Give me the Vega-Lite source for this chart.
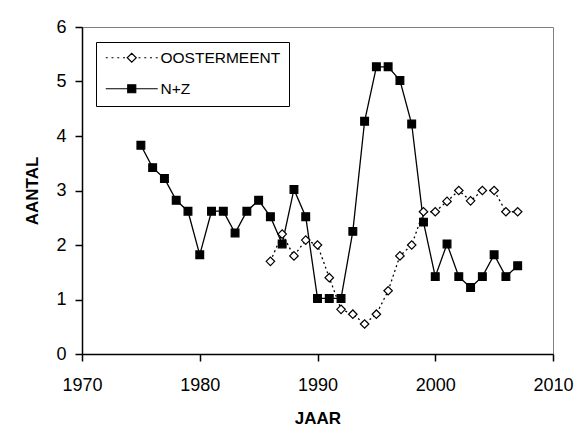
{
  "$schema": "https://vega.github.io/schema/vega-lite/v6.json",
  "width": 471,
  "height": 327,
  "autosize": {"type": "none"},
  "padding": {"left": 82, "top": 27, "right": 22, "bottom": 73},
  "background": "white",
  "config": {
    "view": {"stroke": "#808080", "strokeWidth": 1},
    "axis": {
      "grid": false,
      "domainColor": "black",
      "domainWidth": 1.5,
      "tickColor": "black",
      "tickWidth": 1.5,
      "tickSize": 7,
      "labelFont": "Liberation Sans",
      "labelFontSize": 18,
      "labelColor": "black",
      "titleFont": "Liberation Sans",
      "titleFontSize": 17,
      "titleFontWeight": "bold",
      "titleColor": "black"
    }
  },
  "data": {
    "values": [
      {"year": 1975, "series": "N+Z", "value": 3.83},
      {"year": 1976, "series": "N+Z", "value": 3.42},
      {"year": 1977, "series": "N+Z", "value": 3.22},
      {"year": 1978, "series": "N+Z", "value": 2.82},
      {"year": 1979, "series": "N+Z", "value": 2.62},
      {"year": 1980, "series": "N+Z", "value": 1.82},
      {"year": 1981, "series": "N+Z", "value": 2.62},
      {"year": 1982, "series": "N+Z", "value": 2.62},
      {"year": 1983, "series": "N+Z", "value": 2.22},
      {"year": 1984, "series": "N+Z", "value": 2.62},
      {"year": 1985, "series": "N+Z", "value": 2.82},
      {"year": 1986, "series": "N+Z", "value": 2.52},
      {"year": 1987, "series": "N+Z", "value": 2.02},
      {"year": 1988, "series": "N+Z", "value": 3.02},
      {"year": 1989, "series": "N+Z", "value": 2.52},
      {"year": 1990, "series": "N+Z", "value": 1.02},
      {"year": 1991, "series": "N+Z", "value": 1.02},
      {"year": 1992, "series": "N+Z", "value": 1.02},
      {"year": 1993, "series": "N+Z", "value": 2.25},
      {"year": 1994, "series": "N+Z", "value": 4.27},
      {"year": 1995, "series": "N+Z", "value": 5.27},
      {"year": 1996, "series": "N+Z", "value": 5.27},
      {"year": 1997, "series": "N+Z", "value": 5.02},
      {"year": 1998, "series": "N+Z", "value": 4.22},
      {"year": 1999, "series": "N+Z", "value": 2.42},
      {"year": 2000, "series": "N+Z", "value": 1.42},
      {"year": 2001, "series": "N+Z", "value": 2.02},
      {"year": 2002, "series": "N+Z", "value": 1.42},
      {"year": 2003, "series": "N+Z", "value": 1.22},
      {"year": 2004, "series": "N+Z", "value": 1.42},
      {"year": 2005, "series": "N+Z", "value": 1.82},
      {"year": 2006, "series": "N+Z", "value": 1.42},
      {"year": 2007, "series": "N+Z", "value": 1.62},
      {"year": 1986, "series": "OOSTERMEENT", "value": 1.7},
      {"year": 1987, "series": "OOSTERMEENT", "value": 2.2},
      {"year": 1988, "series": "OOSTERMEENT", "value": 1.8},
      {"year": 1989, "series": "OOSTERMEENT", "value": 2.09},
      {"year": 1990, "series": "OOSTERMEENT", "value": 2.0},
      {"year": 1991, "series": "OOSTERMEENT", "value": 1.4},
      {"year": 1992, "series": "OOSTERMEENT", "value": 0.82},
      {"year": 1993, "series": "OOSTERMEENT", "value": 0.73},
      {"year": 1994, "series": "OOSTERMEENT", "value": 0.55},
      {"year": 1995, "series": "OOSTERMEENT", "value": 0.73},
      {"year": 1996, "series": "OOSTERMEENT", "value": 1.16},
      {"year": 1997, "series": "OOSTERMEENT", "value": 1.8},
      {"year": 1998, "series": "OOSTERMEENT", "value": 2.0},
      {"year": 1999, "series": "OOSTERMEENT", "value": 2.61},
      {"year": 2000, "series": "OOSTERMEENT", "value": 2.61},
      {"year": 2001, "series": "OOSTERMEENT", "value": 2.8},
      {"year": 2002, "series": "OOSTERMEENT", "value": 3.0},
      {"year": 2003, "series": "OOSTERMEENT", "value": 2.81},
      {"year": 2004, "series": "OOSTERMEENT", "value": 3.0},
      {"year": 2005, "series": "OOSTERMEENT", "value": 3.0},
      {"year": 2006, "series": "OOSTERMEENT", "value": 2.61},
      {"year": 2007, "series": "OOSTERMEENT", "value": 2.61}
    ]
  },
  "encoding": {
    "x": {
      "field": "year",
      "type": "quantitative",
      "scale": {"domain": [1970, 2010], "nice": false, "zero": false},
      "axis": {"values": [1970, 1980, 1990, 2000, 2010], "format": "d", "title": "JAAR", "labelPadding": 15, "titlePadding": 16, "labelFlush": false}
    },
    "y": {
      "field": "value",
      "type": "quantitative",
      "scale": {"domain": [0, 6], "nice": false},
      "axis": {"values": [0, 1, 2, 3, 4, 5, 6], "title": "AANTAL", "labelPadding": 9, "titlePadding": 14, "labelFlush": false}
    }
  },
  "layer": [
    {
      "transform": [{"filter": "datum.series === 'OOSTERMEENT'"}],
      "mark": {"type": "line", "color": "black", "strokeWidth": 1.3, "strokeDash": [2, 3]},
      "encoding": {}
    },
    {
      "transform": [{"filter": "datum.series === 'N+Z'"}],
      "mark": {"type": "line", "color": "black", "strokeWidth": 1.3},
      "encoding": {}
    },
    {
      "transform": [{"filter": "datum.series === 'OOSTERMEENT'"}],
      "mark": {"type": "point", "shape": "diamond", "filled": true, "fill": "white", "stroke": "black", "strokeWidth": 1.2, "size": 72, "opacity": 1},
      "encoding": {}
    },
    {
      "transform": [{"filter": "datum.series === 'N+Z'"}],
      "mark": {"type": "point", "shape": "square", "filled": true, "fill": "black", "stroke": "black", "strokeWidth": 1.2, "size": 60, "opacity": 1},
      "encoding": {}
    },
    {
      "mark": {"type": "point", "filled": true, "strokeWidth": 1.2, "size": 100, "opacity": 0},
      "encoding": {
        "shape": {
          "field": "series",
          "type": "nominal",
          "scale": {
            "domain": ["OOSTERMEENT", "N+Z"],
            "range": [
              "M-5.2,0H-4.8M-4.05,0H-3.65M-2.9,0H-2.5M-1.75,0H-1.35M1.35,0H1.75M2.5,0H2.9M3.65,0H4.05M4.8,0H5.2M-0.9,0L0,-0.9L0.9,0L0,0.9Z",
              "M-5.2,0H5.2M-0.8,-0.8H0.8V0.8H-0.8Z"
            ]
          },
          "legend": {
            "title": null,
            "orient": "none",
            "legendX": 14,
            "legendY": 15,
            "strokeColor": "black",
            "fillColor": "white",
            "padding": 8,
            "labelFont": "Liberation Sans",
            "labelFontSize": 15.5,
            "labelColor": "black",
            "labelOffset": 21,
            "symbolSize": 100,
            "symbolOffset": 20,
            "symbolStrokeWidth": 1.2,
            "symbolOpacity": 1,
            "rowPadding": 14
          }
        },
        "fill": {
          "field": "series",
          "type": "nominal",
          "scale": {"domain": ["OOSTERMEENT", "N+Z"], "range": ["white", "black"]}
        },
        "stroke": {
          "field": "series",
          "type": "nominal",
          "scale": {"domain": ["OOSTERMEENT", "N+Z"], "range": ["black", "black"]}
        }
      }
    }
  ]
}
